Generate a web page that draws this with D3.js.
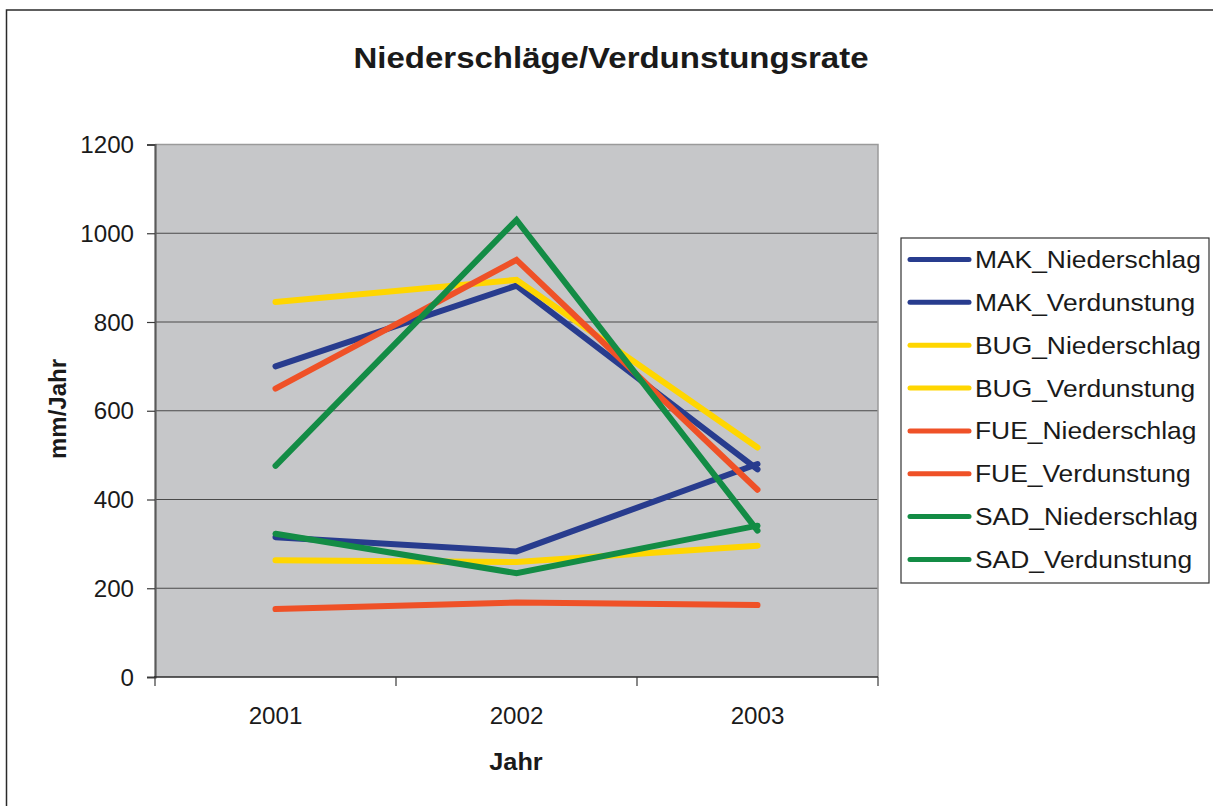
<!DOCTYPE html>
<html>
<head>
<meta charset="utf-8">
<script src="https://cdn.jsdelivr.net/npm/d3@7"></script>
<style>
  html, body { margin: 0; padding: 0; background: #ffffff; }
  svg { display: block; font-family: "Liberation Sans", Arial, sans-serif; }
</style>
</head>
<body>
<svg id="chart" width="1213" height="806"></svg>
<script>
// Jahre (Kategorien) und Achsenticks
const years = ["2001", "2002", "2003"];
const yTicks = [0, 200, 400, 600, 800, 1000, 1200];

// Reihen: Niederschlag und Verdunstung je Station (mm/Jahr)
const seriesNames = [
  "MAK_Niederschlag", "MAK_Verdunstung",
  "BUG_Niederschlag", "BUG_Verdunstung",
  "FUE_Niederschlag", "FUE_Verdunstung",
  "SAD_Niederschlag", "SAD_Verdunstung"
];
const MAK_Niederschlag = [700, 882, 468];
const MAK_Verdunstung  = [315, 283, 480];
const BUG_Niederschlag = [845, 895, 517];
const BUG_Verdunstung  = [263, 259, 296];
const FUE_Niederschlag = [650, 940, 422];
const FUE_Verdunstung  = [153, 168, 162];
const SAD_Niederschlag = [476, 1030, 330];
const SAD_Verdunstung  = [323, 234, 341];
const seriesColors = ["#283c8e", "#283c8e", "#ffd600", "#ffd600",
                      "#ef5127", "#ef5127", "#138c45", "#138c45"];

const seriesValues = [MAK_Niederschlag, MAK_Verdunstung, BUG_Niederschlag, BUG_Verdunstung,
                      FUE_Niederschlag, FUE_Verdunstung, SAD_Niederschlag, SAD_Verdunstung];
const series = seriesNames.map((name, i) => ({ name, color: seriesColors[i], values: seriesValues[i] }));

const svg = d3.select("#chart");
const plot = { left: 155, right: 878, top: 144.5, bottom: 677 };
const SX = 1.1; // horizontal widening of the text glyphs

// Text helper: places text at (x,y) with a slight horizontal widening
function label(g, x, y, txt, size, opts = {}) {
  return g.append("text")
    .attr("transform", `translate(${x},${y}) scale(${opts.sx || SX},1)`)
    .attr("text-anchor", opts.anchor || "middle")
    .attr("font-size", size)
    .attr("font-weight", opts.bold ? "bold" : "normal")
    .attr("fill", "#1a1a1a")
    .text(txt);
}

// outer frame
svg.append("rect")
  .attr("x", 6.5).attr("y", 10)
  .attr("width", 1400).attr("height", 1000)
  .attr("fill", "none").attr("stroke", "#2a2a2a").attr("stroke-width", 1.5);

// title
label(svg, 611, 68, "Niederschläge/Verdunstungsrate", 30, { bold: true });

const x = d3.scaleBand().domain(years).range([plot.left, plot.right]).padding(0);
const y = d3.scaleLinear().domain([0, 1200]).range([plot.bottom, plot.top]);

// plot background
svg.append("rect")
  .attr("x", plot.left).attr("y", plot.top)
  .attr("width", plot.right - plot.left).attr("height", plot.bottom - plot.top)
  .attr("fill", "#c6c7c9");

// gridlines
svg.append("g").selectAll("line")
  .data(yTicks.filter(t => t > 0 && t < 1200))
  .join("line")
  .attr("x1", plot.left).attr("x2", plot.right)
  .attr("y1", d => y(d)).attr("y2", d => y(d))
  .attr("stroke", "#4a4a4a").attr("stroke-width", 1.2);

// top/right border of plot area
svg.append("path")
  .attr("d", `M${plot.left},${plot.top}H${plot.right}V${plot.bottom}`)
  .attr("fill", "none").attr("stroke", "#9a9a9a").attr("stroke-width", 1.5);

// y axis
const yAxis = svg.append("g")
  .attr("transform", `translate(${plot.left},0)`)
  .call(d3.axisLeft(y).tickValues(yTicks).tickSize(8).tickFormat(""));
yAxis.select(".domain").attr("stroke", "#5a5a5a").attr("stroke-width", 2.2);
yAxis.selectAll(".tick line").attr("stroke", "#3a3a3a").attr("stroke-width", 1.2);
yTicks.forEach(t => label(svg, 134, y(t) + 8.5, String(t), 23, { anchor: "end", sx: 1.05 }));

// x axis with ticks between categories
const xBounds = years.map(d => x(d)).concat([plot.right]);
svg.append("line")
  .attr("x1", plot.left - 1).attr("x2", plot.right)
  .attr("y1", plot.bottom).attr("y2", plot.bottom)
  .attr("stroke", "#2a2a2a").attr("stroke-width", 1.5);
svg.append("g").selectAll("line")
  .data(xBounds)
  .join("line")
  .attr("x1", d => d).attr("x2", d => d)
  .attr("y1", plot.bottom).attr("y2", plot.bottom + 9)
  .attr("stroke", "#3a3a3a").attr("stroke-width", 1.2);
years.forEach(yr => label(svg, x(yr) + x.bandwidth() / 2, 724, yr, 23, { sx: 1.05 }));

// axis titles
label(svg, 516, 770, "Jahr", 23, { bold: true });
svg.append("text")
  .attr("transform", `translate(66,409) rotate(-90)`)
  .attr("text-anchor", "middle")
  .attr("font-size", 24).attr("font-weight", "bold").attr("fill", "#1a1a1a")
  .text("mm/Jahr");

// lines
const line = d3.line()
  .x((d, i) => x(years[i]) + x.bandwidth() / 2)
  .y(d => y(d));
svg.append("g").selectAll("path")
  .data(series)
  .join("path")
  .attr("d", d => line(d.values))
  .attr("fill", "none")
  .attr("stroke", d => d.color)
  .attr("stroke-width", 6)
  .attr("stroke-linecap", "round")
  .attr("stroke-linejoin", "miter");

// legend
const legend = svg.append("g");
legend.append("rect")
  .attr("x", 901).attr("y", 238)
  .attr("width", 308).attr("height", 345)
  .attr("fill", "#ffffff").attr("stroke", "#333333").attr("stroke-width", 1.2);
const rowY = i => 259.5 + i * 42.85;
series.forEach((s, i) => {
  legend.append("line")
    .attr("x1", 910).attr("x2", 969)
    .attr("y1", rowY(i)).attr("y2", rowY(i))
    .attr("stroke", s.color).attr("stroke-width", 5).attr("stroke-linecap", "round");
  label(legend, 975, rowY(i) + 8.5, s.name, 24, { anchor: "start" });
});
</script>
</body>
</html>
